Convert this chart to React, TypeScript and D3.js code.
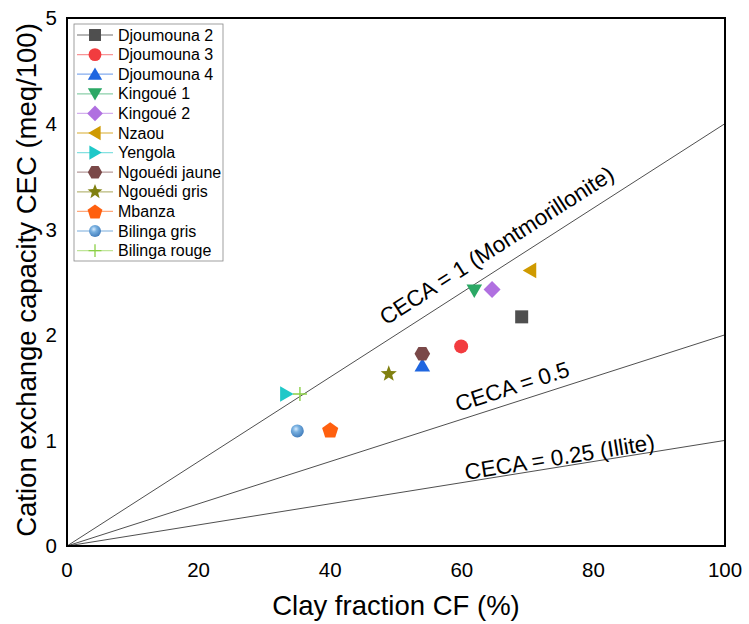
import React from 'react';
import * as d3 from 'd3';

const W = 749;
const H = 624;
const M = { left: 67, right: 24, top: 18, bottom: 78 };

const sampleNames = [
  'Djoumouna 2', 'Djoumouna 3', 'Djoumouna 4', 'Kingoué 1', 'Kingoué 2', 'Nzaou',
  'Yengola', 'Ngouédi jaune', 'Ngouédi gris', 'Mbanza', 'Bilinga gris', 'Bilinga rouge',
];
const clayFraction = [69.1, 59.9, 54.0, 61.9, 64.6, 70.4, 33.3, 54.0, 48.9, 40.0, 35.0, 35.4];
const cecValues = [2.17, 1.89, 1.71, 2.42, 2.43, 2.61, 1.44, 1.82, 1.63, 1.10, 1.09, 1.44];
const sampleColors = [
  '#4f4f4f', '#f23c3f', '#1f66e0', '#2ba865', '#b070e0', '#cf9a00',
  '#1fc8c8', '#7a4848', '#808010', '#ff600f', '#5b9bd5', '#8bd046',
];
const sampleShapes = [
  'square', 'circle', 'triUp', 'triDown', 'diamond', 'triLeft',
  'triRight', 'hexagon', 'star', 'pentagon', 'sphere', 'plus',
];

const cecaRatios = [1, 0.5, 0.25];
const cecaLabels = ['CECA = 1 (Montmorillonite)', 'CECA = 0.5', 'CECA = 0.25 (Illite)'];
const cecaLabelAt = [67, 68.4, 75.1];
const cecaLabelGap = [13, 8, 2];

const xTicks = [0, 20, 40, 60, 80, 100];
const yTicks = [0, 1, 2, 3, 4, 5];

const FONT = '"Liberation Sans", Arial, Helvetica, sans-serif';

const x = d3.scaleLinear().domain([0, 100]).range([M.left, W - M.right]);
const y = d3.scaleLinear().domain([0, 5]).range([H - M.bottom, M.top]);

function polygon(n: number, r: number, rotDeg: number): string {
  const pts: [number, number][] = [];
  for (let i = 0; i < n; i++) {
    const a = (rotDeg * Math.PI) / 180 + (i * 2 * Math.PI) / n;
    pts.push([r * Math.cos(a), r * Math.sin(a)]);
  }
  return 'M' + pts.map((p) => p[0].toFixed(2) + ',' + p[1].toFixed(2)).join('L') + 'Z';
}

function starPath(ro: number, ri: number): string {
  const pts: [number, number][] = [];
  for (let i = 0; i < 10; i++) {
    const r = i % 2 === 0 ? ro : ri;
    const a = -Math.PI / 2 + (i * Math.PI) / 5;
    pts.push([r * Math.cos(a), r * Math.sin(a)]);
  }
  return 'M' + pts.map((p) => p[0].toFixed(2) + ',' + p[1].toFixed(2)).join('L') + 'Z';
}

function Marker({ shape, color, cx, cy, s = 1 }: { shape: string; color: string; cx: number; cy: number; s?: number }) {
  const t = `translate(${cx},${cy}) scale(${s})`;
  switch (shape) {
    case 'square':
      return <rect transform={t} x={-6.5} y={-6.5} width={13} height={13} fill={color} />;
    case 'circle':
      return <circle transform={t} r={7} fill={color} />;
    case 'triUp':
      return <path transform={`translate(${cx},${cy + 1.5}) scale(${s})`} d={polygon(3, 9, -90)} fill={color} />;
    case 'triDown':
      return <path transform={`translate(${cx},${cy - 1.5}) scale(${s})`} d={polygon(3, 9, 90)} fill={color} />;
    case 'triLeft':
      return <path transform={`translate(${cx + 1.5},${cy}) scale(${s})`} d={polygon(3, 9, 180)} fill={color} />;
    case 'triRight':
      return <path transform={`translate(${cx - 1.5},${cy}) scale(${s})`} d={polygon(3, 9, 0)} fill={color} />;
    case 'diamond':
      return <path transform={t} d={polygon(4, 8.5, 0)} fill={color} />;
    case 'hexagon':
      return <path transform={t} d={polygon(6, 7.8, 0)} fill={color} />;
    case 'pentagon':
      return <path transform={`translate(${cx},${cy + 0.8}) scale(${s})`} d={polygon(5, 8.5, -90)} fill={color} />;
    case 'star':
      return <path transform={t} d={starPath(8.5, 3.6)} fill={color} />;
    case 'sphere':
      return <circle transform={t} r={6.5} fill="url(#sphereGrad)" />;
    case 'plus':
      return (
        <path transform={t} d="M-7,0L7,0M0,-7L0,7" stroke={color} strokeWidth={1.4} fill="none" />
      );
    default:
      return null;
  }
}

export default function App() {
  const x0 = x(0);
  const y0 = y(0);
  const legendX = 74;
  const legendY = 24;
  const legendW = 149;
  const legendH = 237;
  const rowH = 19.6;
  return (
    <svg width={W} height={H} style={{ position: 'absolute', left: 0, top: 0, background: '#fff' }} fontFamily={FONT}>
      <defs>
        <radialGradient id="sphereGrad" cx="0.4" cy="0.35" r="0.7">
          <stop offset="0" stopColor="#d8ecff" />
          <stop offset="0.35" stopColor="#78b0e0" />
          <stop offset="1" stopColor="#3d78b8" />
        </radialGradient>
        <clipPath id="plotClip">
          <rect x={M.left} y={M.top} width={W - M.left - M.right} height={H - M.top - M.bottom} />
        </clipPath>
      </defs>
      <rect x={0} y={0} width={W} height={H} fill="#fff" />

      {/* CECA reference lines */}
      <g clipPath="url(#plotClip)">
        {cecaRatios.map((k, i) => (
          <line key={i} x1={x0} y1={y0} x2={x(100)} y2={y(k * 100 * 0.04)} stroke="#222" strokeWidth={0.8} />
        ))}
      </g>
      {cecaRatios.map((k, i) => {
        const ax = x(cecaLabelAt[i]);
        const ay = y(k * cecaLabelAt[i] * 0.04);
        const ang = (Math.atan2(y(k * 4) - y0, x(100) - x0) * 180) / Math.PI;
        return (
          <text
            key={i}
            transform={`translate(${ax},${ay}) rotate(${ang})`}
            y={-cecaLabelGap[i]}
            textAnchor="middle"
            fontSize={22.5}
            fill="#000"
          >
            {cecaLabels[i]}
          </text>
        );
      })}

      {/* data points */}
      {sampleNames.map((n, i) => (
        <Marker key={n} shape={sampleShapes[i]} color={sampleColors[i]} cx={x(clayFraction[i])} cy={y(cecValues[i])} />
      ))}

      {/* frame */}
      <rect
        x={M.left}
        y={M.top}
        width={W - M.left - M.right}
        height={H - M.top - M.bottom}
        fill="none"
        stroke="#000"
        strokeWidth={2}
      />

      {/* ticks labels */}
      {xTicks.map((t) => (
        <text key={t} x={x(t)} y={576.5} textAnchor="middle" fontSize={20.5} fill="#000">
          {t}
        </text>
      ))}
      {yTicks.map((t) => (
        <text key={t} x={57} y={y(t) + 7.3} textAnchor="end" fontSize={20.5} fill="#000">
          {t}
        </text>
      ))}

      {/* axis titles */}
      <text x={(x(0) + x(100)) / 2} y={615} textAnchor="middle" fontSize={27.5} fill="#000">
        Clay fraction CF (%)
      </text>
      <text
        transform={`translate(36,${(y(0) + y(5)) / 2 - 2}) rotate(-90)`}
        textAnchor="middle"
        fontSize={27.5}
        fill="#000"
      >
        Cation exchange capacity CEC (meq/100)
      </text>

      {/* legend */}
      <rect x={legendX} y={legendY} width={legendW} height={legendH} fill="#fff" stroke="#888" strokeWidth={0.8} />
      {sampleNames.map((n, i) => {
        const cy = legendY + 11 + i * rowH;
        return (
          <g key={n}>
            <line x1={77} x2={113} y1={cy} y2={cy} stroke={sampleColors[i]} strokeOpacity={0.55} strokeWidth={1.3} />
            <Marker shape={sampleShapes[i]} color={sampleColors[i]} cx={95} cy={cy} s={0.92} />
            <text x={118} y={cy + 5.5} fontSize={16} fill="#000">
              {n}
            </text>
          </g>
        );
      })}
    </svg>
  );
}
